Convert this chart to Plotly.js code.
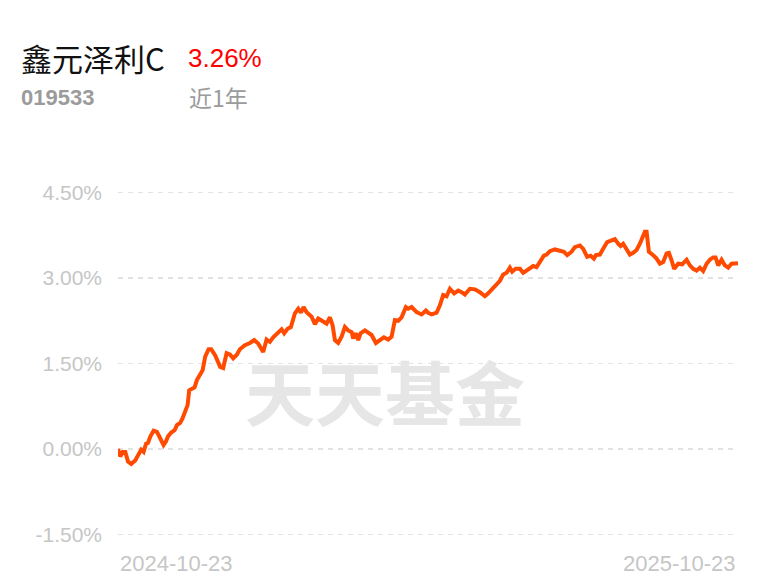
<!DOCTYPE html>
<html>
<head>
<meta charset="utf-8">
<script src="https://cdn.plot.ly/plotly-3.0.1.min.js"></script>
<style>
html,body{margin:0;padding:0;background:#fff;}
#chart{width:768px;height:585px;}
</style>
</head>
<body>
<div id="chart"></div>
<script>
// ---- data ----
const fundName = "鑫元泽利C";
const fundCode = "019533";
const periodLabel = "近1年";
const periodReturn = "3.26%";
const watermark = "天天基金";

// day offset from 2024-10-23
const dayOffsets = [
  0,1.35,2.77,4.30,5.89,7.77,10.13,12.13,13.66,15.07,16.48,17.66,19.02,20.96,22.90,24.84,26.84,28.20,29.38,31.32,
  33.32,34.68,36.62,38.03,39.56,40.97,41.92,43.51,45.09,46.45,48.39,49.80,51.33,53.34,54.87,57.22,60.16,61.93,63.94,65.88,
  67.82,69.82,71.77,74.71,77.71,80.18,82.54,85.48,87.48,89.42,91.37,94.31,96.31,97.84,99.84,101.79,104.14,106.09,107.68,109.26,
  111.03,113.97,115.92,117.86,120.80,122.80,124.74,126.33,127.69,129.63,131.63,133.57,135.52,137.52,138.46,140.05,141.40,142.82,145.35,147.29,
  149.29,151.82,154.18,156.53,159.06,161.07,163.01,164.95,166.95,169.49,170.84,172.84,175.79,178.73,181.26,182.61,184.67,187.56,189.50,191.44,
  193.45,195.39,197.92,200.28,202.28,204.22,207.16,210.11,213.05,216.00,217.94,219.94,222.88,224.83,226.77,228.77,230.71,232.07,234.07,236.60,
  238.54,241.48,244.42,246.43,248.37,250.73,252.31,254.26,257.20,260.14,262.50,264.44,267.03,268.97,271.92,273.86,276.21,278.22,280.16,281.34,
  283.69,285.63,287.99,290.58,292.52,294.46,295.88,297.41,299.41,301.35,303.29,305.30,307.24,308.24,310.18,311.18,312.54,315.07,317.07,319.01,
  320.96,322.96,324.31,325.90,327.43,329.79,332.14,334.73,336.67,338.62,340.62,342.56,344.50,346.50,348.44,350.39,351.80,353.33,355.33,357.28,
  359.22,361.22,363.17,365
];
const returnsPct = [
  0,-0.13,-0.05,-0.05,-0.22,-0.26,-0.20,-0.11,-0.01,-0.05,0.09,0.11,0.22,0.32,0.30,0.19,0.07,0.13,0.22,0.29,
  0.33,0.42,0.46,0.54,0.65,0.77,1.03,1.06,1.08,1.21,1.30,1.38,1.62,1.75,1.75,1.64,1.44,1.42,1.68,1.66,
  1.59,1.65,1.75,1.82,1.86,1.91,1.85,1.70,1.92,1.88,1.96,2.05,2.10,2.03,2.11,2.14,2.38,2.46,2.39,2.49,
  2.40,2.32,2.19,2.29,2.23,2.20,2.31,2.17,1.91,1.86,1.97,2.14,2.08,2.05,1.94,2.03,1.91,2.03,2.08,2.05,
  2.00,1.86,1.91,1.96,1.92,1.97,2.26,2.25,2.31,2.49,2.46,2.49,2.40,2.36,2.43,2.39,2.36,2.39,2.52,2.70,
  2.68,2.81,2.73,2.78,2.75,2.71,2.81,2.80,2.75,2.68,2.73,2.80,2.89,2.95,3.06,3.09,3.18,3.11,3.16,3.16,
  3.09,3.16,3.21,3.19,3.27,3.39,3.41,3.47,3.50,3.47,3.46,3.40,3.46,3.54,3.57,3.51,3.37,3.39,3.34,3.40,
  3.41,3.51,3.63,3.66,3.68,3.60,3.56,3.60,3.50,3.41,3.44,3.49,3.60,3.69,3.81,3.81,3.46,3.40,3.34,3.25,
  3.28,3.43,3.44,3.31,3.16,3.25,3.24,3.32,3.22,3.16,3.13,3.18,3.12,3.25,3.32,3.36,3.36,3.22,3.32,3.22,
  3.18,3.25,3.26,3.26
];

const yTickVals = [-1.5, 0, 1.5, 3, 4.5];
const yTickText = ["-1.50%", "0.00%", "1.50%", "3.00%", "4.50%"];
const xTickVals = [0, 365];
const xTickText = ["2024-10-23", "2025-10-23"];

// ---- layout helpers (pixel -> paper) ----
const W = 768, H = 585;
const M = {l: 118, r: 30, t: 181, b: 39};
const PW = W - M.l - M.r, PH = H - M.t - M.b;
const px = x => (x - M.l) / PW;
const py = y => (H - M.b - y) / PH;

const grey = "#c6c6c6";

const annotations = [
  {text: fundName, x: px(19), y: py(57), xanchor: "left", yanchor: "middle",
   font: {family: "Noto Sans CJK SC", size: 31, color: "#111111"}},
  {text: periodReturn, x: px(186), y: py(58), xanchor: "left", yanchor: "middle",
   font: {family: "Liberation Sans, Arial", size: 26, color: "#ff0000"}},
  {text: fundCode, x: px(19), y: py(97), xanchor: "left", yanchor: "middle",
   font: {family: "Liberation Sans, Arial", size: 22, color: "#9b9b9b", weight: "bold"}},
  {text: periodLabel, x: px(187), y: py(97), xanchor: "left", yanchor: "middle",
   font: {family: "Noto Sans CJK SC", size: 23, color: "#9b9b9b"}},
  {text: watermark, x: px(385), y: py(390), xanchor: "center", yanchor: "middle",
   font: {family: "Noto Sans CJK SC", size: 70, color: "#e6e6e6", weight: "bold"}},
  {text: xTickText[0], x: xTickVals[0], xref: "x", y: py(563), xanchor: "left", yanchor: "middle",
   font: {family: "Liberation Sans, Arial", size: 22, color: grey}},
  {text: xTickText[1], x: xTickVals[1], xref: "x", y: py(563), xanchor: "right", yanchor: "middle",
   font: {family: "Liberation Sans, Arial", size: 22, color: grey}}
].map(a => Object.assign({xref: "paper", yref: "paper", showarrow: false}, a));

const trace = {
  x: dayOffsets, y: returnsPct, type: "scatter", mode: "lines",
  line: {color: "#ff4a00", width: 4, shape: "linear"},
  hoverinfo: "skip"
};

const layout = {
  width: W, height: H,
  margin: M,
  paper_bgcolor: "#ffffff", plot_bgcolor: "#ffffff",
  showlegend: false,
  xaxis: {range: [0, 365], showgrid: false, zeroline: false, showline: false,
          showticklabels: false, ticks: "", fixedrange: true},
  yaxis: {range: [-1.7, 4.7], tickvals: yTickVals, ticktext: yTickText,
          showgrid: true, gridcolor: "#e2e2e2", gridwidth: 1.5, griddash: "5px,5px",
          zeroline: false, showline: false, ticks: "", ticklabelstandoff: 15,
          tickfont: {family: "Liberation Sans, Arial", size: 21, color: grey}, fixedrange: true},
  annotations: annotations
};

Plotly.newPlot("chart", [trace], layout, {displayModeBar: false, staticPlot: true});
</script>
</body>
</html>
